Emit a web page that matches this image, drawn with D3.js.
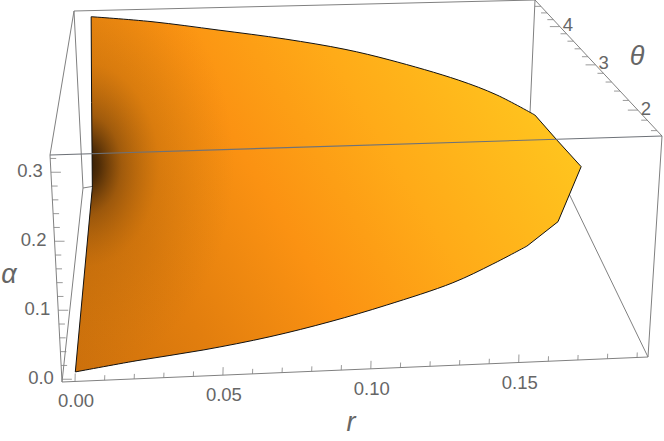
<!DOCTYPE html>
<html><head><meta charset="utf-8">
<script src="https://cdn.jsdelivr.net/npm/d3@7"></script>
<style>html,body{margin:0;padding:0;background:#fff}svg{display:block}text{font-family:"Liberation Sans",Arial,sans-serif;fill:#666}</style>
</head><body><svg id="c" width="664" height="441"></svg>
<script>
// Axis ranges and ticks
const rDomain = [-0.0044, 0.1937];
const thetaDomain = [1.5, 4.8];
const alphaDomain = [-0.004, 0.325];
const rTicks = d3.range(0, 20).map(i => i / 100);
const rLabels = [0, 0.05, 0.10, 0.15];
const thetaTicks = d3.range(8, 24).map(i => i / 5);
const thetaLabels = [2, 3, 4];
const alphaTicks = d3.range(0, 17).map(i => i / 50);
const alphaLabels = [0, 0.1, 0.2, 0.3];

// Boundary of the surface: lower curve, end cap, upper curve, r = 0 side
const lowerR = [0, 0.0211, 0.0436, 0.0663, 0.0866, 0.1057, 0.1278, 0.1410, 0.1522];
const lowerTheta = [1.57, 1.57, 1.57, 1.57, 1.57, 1.57, 1.57, 1.57, 1.57];
const lowerAlpha = [0.002, 0.0144, 0.0257, 0.041, 0.0594, 0.0806, 0.1098, 0.1354, 0.1603];
const capR = [0.1622, 0.1690, 0.1678];
const capTheta = [1.57, 1.57, 2.082];
const capAlpha = [0.1952, 0.2768, 0.2727];
const upperR = [0.1680, 0.1588, 0.1476, 0.1244, 0.1073, 0.0840, 0.0566, 0.0290, 0.0031];
const upperTheta = [2.702, 3.123, 3.467, 3.907, 4.06, 4.298, 4.461, 4.586, 4.7];
const upperAlpha = [0.2596, 0.2609, 0.2621, 0.2705, 0.284, 0.2914, 0.3026, 0.3145, 0.3198];
const sideR = [0.0015, 0];
const sideTheta = [4.7, 4.7];
const sideAlpha = [0.16, 0.002];

const svg = d3.select("#c");

// Perspective box
const rS = d3.scaleLinear().domain(rDomain).range([0, 1]);
const aS = d3.scaleLinear().domain(alphaDomain).range([0, 1]);
const tS = d3.scaleLinear().domain(thetaDomain).range([0, 1]);
const persp = 0.76;
const front = { x00: 62, y00: 382, x10: 648, y10: 357, x01: 50, y01: 155, x11: 662, y11: 136 };
const back  = { x00: 83, y00: 188, x10: 530, y10: 113, x01: 74, y01: 11,  x11: 535, y11: 0 };
function bil(f, u, v) {
  const g = k => (1-u)*(1-v)*f[k+"00"] + u*(1-v)*f[k+"10"] + (1-u)*v*f[k+"01"] + u*v*f[k+"11"];
  return [g("x"), g("y")];
}
function project(r, th, al) {
  const u = rS(r), v = aS(al), d = tS(th);
  const t = d / (d + persp * (1 - d));
  const a = bil(front, u, v), b = bil(back, u, v);
  return [a[0] + (b[0]-a[0])*t, a[1] + (b[1]-a[1])*t];
}
const [r0, r1] = rDomain, [t0, t1] = thetaDomain, [a0, a1] = alphaDomain;
const edge = (g, p, q, col, w) => g.append("line")
  .attr("x1", p[0]).attr("y1", p[1]).attr("x2", q[0]).attr("y2", q[1])
  .attr("stroke", col || "#808080").attr("stroke-width", w || 1);

// Gradients
const defs = svg.append("defs");
const base = defs.append("linearGradient").attr("id", "base").attr("gradientUnits", "userSpaceOnUse")
  .attr("x1", 75).attr("y1", 372).attr("x2", 537).attr("y2", 95);
[[0, "#cc700c"], [0.235, "#e27e0e"], [0.475, "#fb9212"], [0.713, "#ffab18"], [1, "#ffc41e"]]
  .forEach(s => base.append("stop").attr("offset", s[0]).attr("stop-color", s[1]));
const dark = defs.append("radialGradient").attr("id", "dark").attr("gradientUnits", "userSpaceOnUse")
  .attr("cx", 0).attr("cy", 0).attr("r", 1)
  .attr("gradientTransform", "translate(84,165) scale(150,205)");
[[0, "#1a0e04", 0.95], [0.1, "#2e1a06", 0.82], [0.25, "#5a340a", 0.5], [0.5, "#9a5808", 0.25], [1, "#b06a0c", 0]]
  .forEach(s => dark.append("stop").attr("offset", s[0]).attr("stop-color", s[1]).attr("stop-opacity", s[2]));

// Back edges
const backG = svg.append("g");
edge(backG, project(r0,t1,a1), project(r1,t1,a1));
edge(backG, project(r0,t1,a1), project(r0,t1,a0));
edge(backG, project(r1,t1,a1), project(r1,t1,a0));
edge(backG, project(r0,t1,a0), project(r1,t1,a0));
edge(backG, project(r0,t1,a1), project(r0,t0,a1));
edge(backG, project(r1,t1,a1), project(r1,t0,a1));
edge(backG, project(r0,t1,a0), project(r0,t0,a0));
edge(backG, project(r1,t1,a0), project(r1,t0,a0));
edge(backG, project(r0,t0,a0), project(r1,t0,a0));
edge(backG, project(r0,t0,a0), project(r0,t0,a1));
edge(backG, project(r1,t0,a0), project(r1,t0,a1));

// Surface
const toPts = (R, T, A) => R.map((r, i) => project(r, T[i], A[i]));
const lowerPts = toPts(lowerR, lowerTheta, lowerAlpha);
const capPts = toPts(capR, capTheta, capAlpha);
const upperPts = toPts(upperR, upperTheta, upperAlpha);
const sidePts = toPts(sideR, sideTheta, sideAlpha);
const smooth = d3.line().curve(d3.curveCatmullRom.alpha(0.5));
const straight = pts => pts.map(p => "L" + p[0] + "," + p[1]).join("");
const outline = smooth(lowerPts) + straight(capPts) + straight([upperPts[0]])
  + "L" + smooth(upperPts).slice(1) + straight(sidePts) + "Z";
svg.append("path").attr("d", outline).attr("fill", "url(#base)");
svg.append("path").attr("d", outline).attr("fill", "url(#dark)");
svg.append("path").attr("d", outline).attr("fill", "none").attr("stroke", "#111").attr("stroke-width", 1).attr("stroke-linejoin", "round");

// Front top edge over the surface
edge(svg, project(r0,t0,a1), project(r1,t0,a1), "#6e7278", 1.1);

// Ticks
const tk = svg.append("g");
rTicks.forEach(v => {
  const p = project(v, t0, a0), L = rLabels.some(x => Math.abs(x - v) < 1e-6) ? 8 : 5;
  edge(tk, p, [p[0] + 0.2, p[1] - L], "#808080", 0.8);
});
alphaTicks.forEach(v => {
  const p = project(r0, t0, v), L = alphaLabels.some(x => Math.abs(x - v) < 1e-6) ? 10 : 6;
  edge(tk, p, [p[0] + L, p[1]], "#808080", 0.8);
});
thetaTicks.forEach(v => {
  const p = project(r1, v, a1), L = thetaLabels.includes(v) ? 10 : 6;
  edge(tk, p, [p[0] - L, p[1]], "#808080", 0.8);
});

// Labels
const fs = 18.5;
const lbl = (x, y, s, anchor, size, italic) => svg.append("text").attr("x", x).attr("y", y)
  .attr("text-anchor", anchor).attr("dominant-baseline", "central")
  .attr("font-size", size || fs).attr("font-style", italic ? "italic" : "normal").text(s);
rLabels.forEach(v => { const p = project(v, t0, a0); lbl(p[0] + 1, p[1] + 19.5, d3.format(".2f")(v), "middle"); });
alphaLabels.forEach(v => { const p = project(r0, t0, v); lbl(p[0] - 8, p[1] - 1.5, d3.format(".1f")(v), "end"); });
thetaLabels.forEach(v => { const p = project(r1, v, a1); lbl(p[0] + 8, p[1] - 2, String(v), "middle"); });
lbl(351, 422, "r", "middle", 27, true);
lbl(9, 274, "α", "middle", 27, true);
lbl(637, 56, "θ", "middle", 27, true);
</script></body></html>
